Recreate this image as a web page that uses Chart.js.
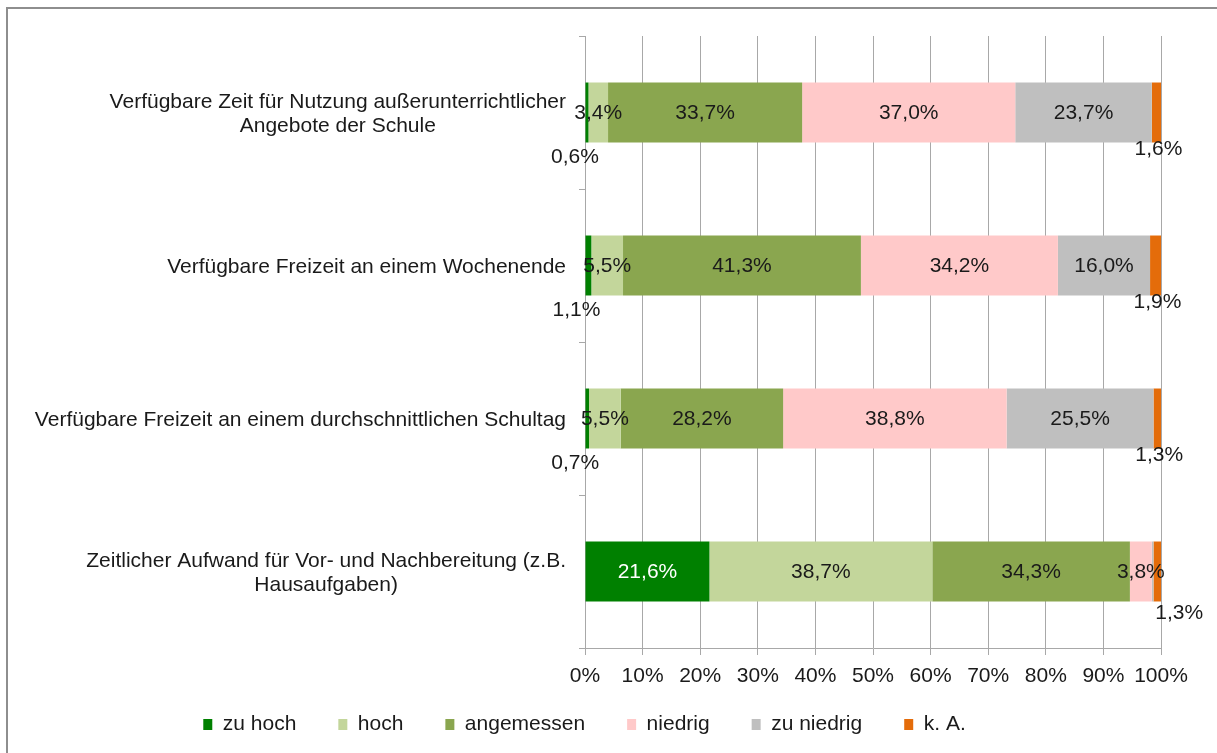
<!DOCTYPE html>
<html><head><meta charset="utf-8">
<script src="https://cdn.jsdelivr.net/npm/chart.js@4/dist/chart.umd.min.js"></script>
<style>html,body{margin:0;padding:0;background:#fff;}#wrap{position:relative;width:1217px;height:753px;}</style>
</head><body><div id="wrap"><canvas id="c" width="1217" height="753"></canvas></div>
<script>
const categories = [
  ["Verfügbare Zeit für Nutzung außerunterrichtlicher", "Angebote der Schule"],
  ["Verfügbare Freizeit an einem Wochenende"],
  ["Verfügbare Freizeit an einem durchschnittlichen Schultag"],
  ["Zeitlicher Aufwand für Vor- und Nachbereitung (z.B.", "Hausaufgaben)"]
];
const seriesNames = ["zu hoch", "hoch", "angemessen", "niedrig", "zu niedrig", "k. A."];
const zuHoch      = [0.6, 1.1, 0.7, 21.6];
const hoch        = [3.4, 5.5, 5.5, 38.7];
const angemessen  = [33.7, 41.3, 28.2, 34.3];
const niedrig     = [37.0, 34.2, 38.8, 3.8];
const zuNiedrig   = [23.7, 16.0, 25.5, 0.3];
const keineAngabe = [1.6, 1.9, 1.3, 1.3];
const xTickLabels = ["0%","10%","20%","30%","40%","50%","60%","70%","80%","90%","100%"];

const colors = ["#008000", "#C3D69B", "#8AA64F", "#FFC9C9", "#BFBFBF", "#E46C0A"];
const seriesValues = [zuHoch, hoch, angemessen, niedrig, zuNiedrig, keineAngabe];

const FONT = "'Liberation Sans', Arial, sans-serif";
const TEXT = "#1a1a1a";
const GRID = "#a8a8a8";
Chart.defaults.font.family = FONT;
Chart.defaults.font.size = 21;
Chart.defaults.color = TEXT;

const fmt = v => v.toFixed(1).replace('.', ',') + '%';

const framePlugin = {
  id: 'frame',
  beforeDraw(chart) {
    const ctx = chart.ctx;
    ctx.save();
    ctx.fillStyle = '#fff';
    ctx.fillRect(0, 0, chart.width, chart.height);
    ctx.strokeStyle = '#8e8e8e';
    ctx.lineWidth = 2;
    ctx.beginPath();
    ctx.moveTo(7, chart.height);
    ctx.lineTo(7, 8);
    ctx.lineTo(chart.width, 8);
    ctx.stroke();
    ctx.restore();
  }
};

const catLabelPlugin = {
  id: 'catLabels',
  afterDraw(chart) {
    const ctx = chart.ctx;
    const ys = chart.scales.y;
    ctx.save();
    ctx.font = "21px " + FONT;
    ctx.fillStyle = TEXT;
    ctx.textAlign = 'center';
    ctx.textBaseline = 'middle';
    const right = ys.right - 19;
    const lh = 24;
    categories.forEach((lines, i) => {
      const cy = ys.getPixelForValue(i) + 2;
      const w = Math.max(...lines.map(l => ctx.measureText(l).width));
      const cx = right - w / 2;
      lines.forEach((l, j) => {
        ctx.fillText(l, cx, cy + (j - (lines.length - 1) / 2) * lh);
      });
    });
    ctx.restore();
  }
};

const valueLabelPlugin = {
  id: 'valueLabels',
  afterDatasetsDraw(chart) {
    const ctx = chart.ctx;
    ctx.save();
    ctx.font = "21px " + FONT;
    ctx.textAlign = 'center';
    ctx.textBaseline = 'middle';
    chart.data.datasets.forEach((ds, di) => {
      const meta = chart.getDatasetMeta(di);
      meta.data.forEach((bar, i) => {
        const v = ds.data[i];
        if (v < 0.5) return;
        const cx = (bar.x + bar.base) / 2;
        const bottom = bar.y + bar.height / 2;
        let x = cx, y = bar.y + 1;
        ctx.fillStyle = TEXT;
        if (di === 0 && v < 2) {
          x = cx - 12; y = bottom + 15;
        } else if (di === 5) {
          const prev = chart.data.datasets[3].data[i] + chart.data.datasets[4].data[i];
          x = cx + (prev < 6 ? 22 : 2);
          y = bottom + (prev < 6 ? 12 : 7);
        } else if (di === 0) {
          ctx.fillStyle = '#ffffff';
        }
        ctx.fillText(fmt(v), x, y);
      });
    });
    ctx.restore();
  }
};

const legendFix = {
  id: 'legendFix',
  beforeLayout(chart) {
    const lg = chart.legend;
    if (lg && !lg._patched) {
      const orig = lg.fit;
      lg.fit = function () { orig.call(this); this.height = 45; };
      lg._patched = true;
    }
  },
  afterLayout(chart) {
    const lg = chart.legend;
    if (!lg) return;
    const pad = lg.options.labels.padding;
    lg.top = 724.5 - pad - 21 / 2;
    lg.bottom = chart.height;
    lg.height = lg.bottom - lg.top;
    lg.left += 4; lg.right += 4;
  }
};

new Chart(document.getElementById('c'), {
  type: 'bar',
  data: {
    labels: categories,
    datasets: seriesNames.map((name, k) => ({
      label: name,
      data: seriesValues[k],
      backgroundColor: colors[k],
      borderWidth: 0,
      barPercentage: 0.392,
      categoryPercentage: 1
    }))
  },
  options: {
    indexAxis: 'y',
    responsive: false,
    animation: false,
    layout: { padding: { top: 36, right: 56, left: 0, bottom: 0 } },
    plugins: {
      tooltip: { enabled: false },
      legend: {
        position: 'bottom',
        labels: { boxWidth: 9, boxHeight: 11, padding: 42, color: TEXT, font: { size: 21 } }
      }
    },
    scales: {
      x: {
        stacked: true,
        min: 0, max: 100,
        ticks: { stepSize: 10, padding: 9, color: TEXT, maxRotation: 0, minRotation: 0, autoSkip: false,
                 callback: (v, idx) => xTickLabels[idx] },
        grid: { color: GRID, lineWidth: 1, drawTicks: true, tickLength: 7, tickColor: GRID },
        border: { display: true, color: GRID, width: 1 },
        afterFit(s) {
          const lh = s.chart.legend ? s.chart.legend.height : 0;
          s.height = Math.max(0, 753 - 648 - lh);
        }
      },
      y: {
        stacked: true,
        ticks: { display: false },
        grid: { display: true, drawOnChartArea: false, drawTicks: true, tickLength: 6, tickColor: GRID, offset: true },
        border: { display: true, color: GRID, width: 1 },
        afterFit(s) { s.width = 585; }
      }
    }
  },
  plugins: [framePlugin, catLabelPlugin, valueLabelPlugin, legendFix]
});
</script>
</body></html>
